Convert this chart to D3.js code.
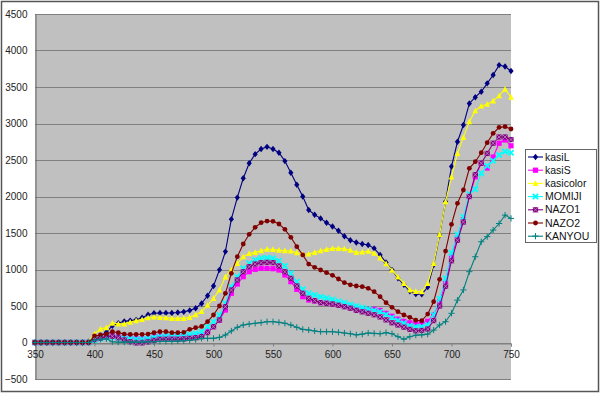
<!DOCTYPE html>
<html>
<head>
<meta charset="utf-8">
<script src="https://cdn.jsdelivr.net/npm/d3@7"></script>
<style>
html,body{margin:0;padding:0;background:#fff;}
svg{display:block;font-family:"Liberation Sans","DejaVu Sans",sans-serif;}
</style>
</head>
<body>
<svg id="chart" width="600" height="393"></svg>
<script>
const wavelengths = [350,355,360,365,370,375,380,385,390,395,400,405,410,415,420,425,430,435,440,445,450,455,460,465,470,475,480,485,490,495,500,505,510,515,520,525,530,535,540,545,550,555,560,565,570,575,580,585,590,595,600,605,610,615,620,625,630,635,640,645,650,655,660,665,670,675,680,685,690,695,700,705,710,715,720,725,730,735,740,745,750];

const kasiL = [0,0,0,0,0,0,0,0,0,10,60,90,140,230,265,290,300,310,340,380,400,405,405,405,410,420,440,470,535,640,775,995,1245,1690,1985,2250,2455,2580,2650,2680,2650,2600,2485,2325,2160,2000,1815,1750,1700,1640,1590,1530,1455,1400,1370,1350,1335,1290,1200,1095,995,880,790,700,665,660,760,1060,1470,1930,2410,2750,2980,3275,3360,3435,3550,3665,3800,3780,3720];
const kasiS = [0,0,0,0,0,0,0,0,0,0,40,60,90,95,80,75,70,55,50,50,80,85,80,80,80,80,85,95,103,158,217,308,445,674,801,902,970,1002,1016,1016,1011,993,925,833,728,628,582,569,546,537,527,514,500,480,460,445,450,455,440,400,360,320,290,270,260,265,290,380,560,810,1180,1430,1680,2000,2270,2455,2390,2540,2730,2775,2695];
const kasicolor = [0,0,0,0,0,0,0,0,0,10,120,185,205,265,255,255,280,300,315,340,350,345,340,330,330,330,345,380,425,510,605,720,900,995,1085,1175,1220,1235,1258,1280,1275,1265,1258,1255,1230,1212,1212,1235,1258,1276,1290,1290,1285,1265,1235,1240,1250,1225,1160,1080,990,900,810,720,700,695,810,1085,1480,1930,2270,2590,2810,3025,3175,3240,3265,3310,3380,3470,3360];
const MOMIJI = [0,0,0,0,0,0,0,0,0,0,30,50,70,75,70,60,50,45,45,55,70,80,85,90,95,100,110,125,148,217,285,377,537,765,902,1016,1085,1130,1153,1162,1153,1121,1048,948,833,728,674,651,628,610,590,565,545,520,500,480,460,440,420,385,340,300,265,230,215,215,245,380,600,880,1230,1480,1720,2035,2100,2320,2420,2490,2570,2615,2600];
const NAZO1 = [0,0,0,0,0,0,0,0,0,0,40,60,80,85,65,35,12,-5,-5,10,30,45,45,45,45,50,57,66,80,135,217,308,491,719,856,970,1039,1075,1094,1098,1094,1048,970,879,774,674,605,573,546,537,527,510,490,470,440,420,400,380,350,310,270,240,210,180,160,165,185,300,500,770,1120,1400,1650,2000,2300,2455,2590,2730,2815,2815,2780];
const NAZO2 = [0,0,0,0,0,0,0,0,0,0,90,103,116,148,135,116,112,112,112,116,135,148,148,135,135,140,180,203,220,285,377,500,674,948,1176,1349,1482,1578,1641,1664,1660,1623,1550,1441,1313,1199,1075,1030,993,956,920,870,820,790,774,765,742,696,628,545,482,422,377,345,305,298,390,559,865,1253,1619,1907,2089,2386,2477,2600,2737,2865,2947,2956,2925];
const KANYOU = [0,0,0,0,0,0,0,0,0,0,30,45,50,10,5,5,5,5,5,10,10,15,15,15,20,25,30,40,57,57,57,70,103,158,208,240,253,263,272,285,285,276,263,240,208,180,171,158,148,148,148,140,130,120,105,115,130,125,120,135,120,80,45,80,100,105,115,170,240,285,400,580,720,970,1175,1380,1450,1540,1630,1745,1700];

const seriesNames = ["kasiL","kasiS","kasicolor","MOMIJI","NAZO1","NAZO2","KANYOU"];
const seriesValues = [kasiL,kasiS,kasicolor,MOMIJI,NAZO1,NAZO2,KANYOU];
const seriesColors = ["#000080","#FF00FF","#FFFF00","#00FFFF","#800080","#800000","#008080"];
const seriesMarkers = ["diamond","square","triangle","cross","squarex","circle","plus"];
const yTicks = [-500,0,500,1000,1500,2000,2500,3000,3500,4000,4500];
const xTicks = [350,400,450,500,550,600,650,700,750];

const svg = d3.select("#chart");
const W = 600, H = 393;
const plot = {l:35, r:511, t:14, b:379};

svg.append("rect").attr("x",1.5).attr("y",1.5).attr("width",W-3).attr("height",H-3)
  .attr("fill","#fff").attr("stroke","#555").attr("stroke-width",1.5);

const x = d3.scaleLinear().domain([350,750]).range([plot.l, plot.r]);
const y = d3.scaleLinear().domain([-500,4500]).range([plot.b, plot.t]);

svg.append("rect").attr("x",plot.l).attr("y",plot.t).attr("width",plot.r-plot.l).attr("height",plot.b-plot.t)
  .attr("fill","#C0C0C0");

// gridlines
svg.append("g").selectAll("line").data(yTicks).join("line")
  .attr("x1",plot.l).attr("x2",plot.r)
  .attr("y1",d=>Math.round(y(d))+0.5).attr("y2",d=>Math.round(y(d))+0.5)
  .attr("stroke","#808080").attr("stroke-width",1);

// y axis
const yAxis = d3.axisLeft(y).tickValues(yTicks).tickSize(0).tickPadding(8).tickFormat(d3.format("d"));
const gy = svg.append("g").attr("transform",`translate(${plot.l+0.5},0)`).call(yAxis);
gy.select(".domain").attr("stroke","#666");
gy.selectAll("text").attr("font-size",10).attr("fill","#222");

// x axis at y=0
const xAxis = d3.axisBottom(x).tickValues(xTicks).tickSize(3).tickPadding(4).tickFormat(d3.format("d"));
const gx = svg.append("g").attr("transform",`translate(0,${Math.round(y(0))+0.5})`).call(xAxis);
gx.select(".domain").attr("stroke","#808080");
gx.selectAll(".tick line").attr("stroke","#808080");
gx.selectAll("text").attr("font-size",10).attr("fill","#222");

function drawMarker(g, type, color, cx, cy) {
  const s = 2.6;
  if (type==="diamond") {
    g.append("path").attr("d",`M${cx},${cy-s-0.6}L${cx+s},${cy}L${cx},${cy+s+0.6}L${cx-s},${cy}Z`).attr("fill",color);
  } else if (type==="square") {
    g.append("rect").attr("x",cx-s).attr("y",cy-s).attr("width",2*s).attr("height",2*s).attr("fill",color);
  } else if (type==="triangle") {
    g.append("path").attr("d",`M${cx},${cy-s-0.5}L${cx+s+0.3},${cy+s}L${cx-s-0.3},${cy+s}Z`).attr("fill",color);
  } else if (type==="cross") {
    g.append("path").attr("d",`M${cx-s},${cy-s}L${cx+s},${cy+s}M${cx-s},${cy+s}L${cx+s},${cy-s}`).attr("stroke",color).attr("stroke-width",1.8);
  } else if (type==="squarex") {
    g.append("rect").attr("x",cx-s).attr("y",cy-s).attr("width",2*s).attr("height",2*s).attr("fill",color);
    g.append("path").attr("d",`M${cx-s},${cy-s}L${cx+s},${cy+s}M${cx-s},${cy+s}L${cx+s},${cy-s}`).attr("stroke","#c090c0").attr("stroke-width",0.8);
  } else if (type==="circle") {
    g.append("circle").attr("cx",cx).attr("cy",cy).attr("r",s-0.2).attr("fill",color);
  } else if (type==="plus") {
    g.append("path").attr("d",`M${cx-s-0.5},${cy}L${cx+s+0.5},${cy}M${cx},${cy-s-0.5}L${cx},${cy+s+0.5}`).attr("stroke",color).attr("stroke-width",1);
  }
}

const line = d3.line().x((d,i)=>x(wavelengths[i])).y(d=>y(d));

seriesValues.forEach((vals,k)=>{
  const g = svg.append("g");
  g.append("path").datum(vals).attr("d",line).attr("fill","none")
    .attr("stroke",seriesColors[k]).attr("stroke-width",1.1);
  vals.forEach((v,i)=>drawMarker(g, seriesMarkers[k], seriesColors[k], x(wavelengths[i]), y(v)));
});

// legend
const lg = svg.append("g");
lg.append("rect").attr("x",525.5).attr("y",149.5).attr("width",71).attr("height",93)
  .attr("fill","#fff").attr("stroke","#666").attr("stroke-width",1);
seriesNames.forEach((name,k)=>{
  const ly = 157 + k*13.2;
  lg.append("line").attr("x1",528).attr("x2",543).attr("y1",ly).attr("y2",ly)
    .attr("stroke",seriesColors[k]).attr("stroke-width",1.1);
  drawMarker(lg, seriesMarkers[k], seriesColors[k], 535.5, ly);
  lg.append("text").attr("x",545).attr("y",ly).attr("dy","0.35em")
    .attr("font-size",10.5).attr("fill","#111").text(name);
});
</script>
</body>
</html>
